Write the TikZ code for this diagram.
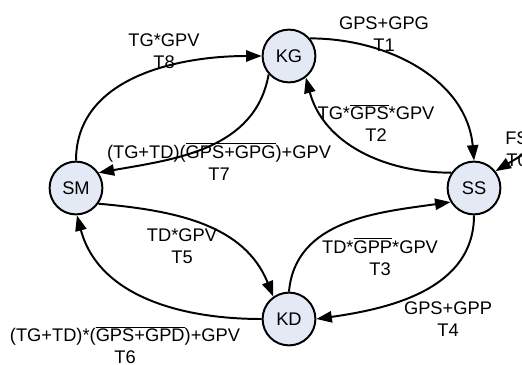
\documentclass[tikz,border=0pt]{standalone}
\usepackage{fontspec}
\setmainfont{Liberation Sans}
\usetikzlibrary{arrows.meta}
\definecolor{statefill}{RGB}{228,234,245}

\begin{document}
\begin{tikzpicture}[x=0.025cm,y=0.025cm,line width=1.4pt,
    state/.style={circle,draw,fill=statefill,minimum size=1.32cm,inner sep=0pt,
      font=\fontsize{13}{15.5}\selectfont},
    trans/.style={-{Triangle[length=11pt,width=8pt]}},
    lbl/.style={align=center,inner sep=0pt,font=\fontsize{13}{15.5}\selectfont}]
    \useasboundingbox (0,0) rectangle (522,364);
    \clip (0,0) rectangle (522,364);
    % states
    \foreach \n/\x/\y in {KG/289/308, SS/474/176, SM/76/176, KD/289/45}
    \node[state] (\n) at (\x,\y) {\n};
    \coordinate (fsin) at (547,224);
    % transitions
    \draw[trans] (fsin) -- (SS.38);
    \draw[trans] (KG.40) to[out=0,in=95] (SS.north);
    \draw[trans] (SS.146) to[out=180,in=-75] (KG.-52);
    \draw[trans] (KD.north) to[out=85,in=188] (SS.211);
    \draw[trans] (SS.south) to[out=-90,in=8] (KD.east);
    \draw[trans] (SM.-35) to[out=-5,in=112] (KD.125);
    \draw[trans] (KD.west) to[out=180,in=-75] (SM.-88);
    \draw[trans] (KG.222) to[out=-100,in=10] (SM.34);
    \draw[trans] (SM.north) to[out=90,in=180] (KG.west);
    % labels
    \node[lbl] (lt0) at (517,215) {FS\\T0};
    \node[lbl] (lt1) at (384,329.5) {GPS+GPG\\T1};
    \node[lbl] (lt2) at (376,241) {TG*$\overline{\mbox{GPS}}$*GPV\\T2};
    \node[lbl] (lt3) at (380,107.5) {TD*$\overline{\mbox{GPP}}$*GPV\\T3};
    \node[lbl] (lt4) at (448,45) {GPS+GPP\\T4};
    \node[lbl] (lt5) at (182,118) {TD*GPV\\T5};
    \node[lbl] (lt6) at (125,19) {(TG+TD)*($\overline{\mbox{GPS+GPD}}$)+GPV\\T6};
    \node[lbl] (lt7) at (219,202.5) {(TG+TD)($\overline{\mbox{GPS+GPG}}$)+GPV\\T7};
    \node[lbl] (lt8) at (164,313) {TG*GPV\\T8};
\end{tikzpicture}
\end{document}
